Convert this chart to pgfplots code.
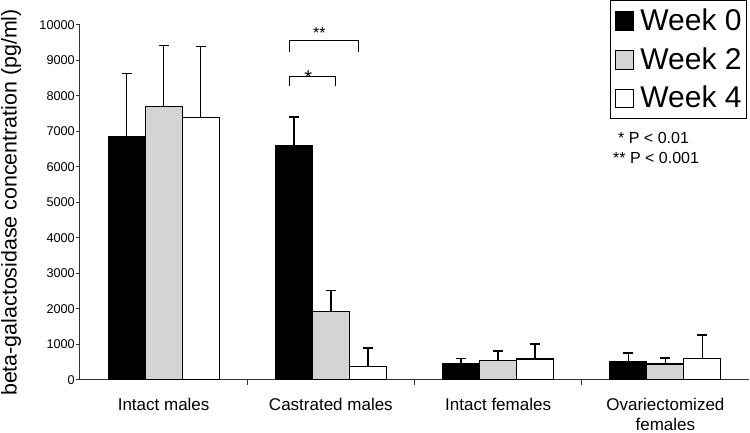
\documentclass[border=0pt]{standalone}
\usepackage{pgfplots}
\pgfplotsset{compat=1.18}
\usepackage{fontspec}
\setmainfont{Liberation Sans}
\definecolor{barGray}{RGB}{212,212,212}
\begin{document}
\begin{tikzpicture}[x=1pt,y=1pt]
\path[use as bounding box] (0,0) rectangle (750,433);
\begin{axis}[
  at={(80pt,53pt)}, anchor=south west,
  scale only axis, width=669pt, height=355pt,
  xmin=-0.5, xmax=3.5, ymin=0, ymax=10000,
  axis x line*=bottom, axis y line*=left,
  axis line style={line width=1pt, black!80},
  ybar,
  bar width=37pt,
  scaled y ticks=false,
  ytick={0,1000,...,10000},
  /pgf/number format/1000 sep={},
  /pgf/number format/assume math mode=true,
  tick align=outside,
  major tick length=4pt,
  minor tick length=5pt,
  xtick={0,1,2,3},
  xticklabels={Intact males,Castrated males,Intact females,{Ovariectomized\\females}},
  minor xtick={0.5,1.5,2.5},
  major x tick style={draw=none},
  minor x tick style={black!80, line width=1pt},
  major y tick style={black!80, line width=1pt},
  yticklabel style={font=\fontsize{12.7}{14}\selectfont, inner sep=0pt, xshift=-1pt},
  xticklabel style={font=\fontsize{17}{20}\selectfont, align=center, anchor=north, inner sep=0pt, yshift=-14pt},
  ylabel={beta-galactosidase concentration (pg/ml)},
  every axis y label/.style={at={(axis description cs:-0.103,0.5)}, rotate=90, anchor=center, font=\fontsize{21.4}{24}\selectfont},
  legend style={at={(rel axis cs:0.997,1.07)}, anchor=north east, draw=black, line width=0.8pt,
    font=\fontsize{30}{30}\selectfont, inner xsep=5pt, inner ysep=10pt,
    nodes={inner sep=0pt, text height=20pt, text depth=0pt}, row sep=18pt,
    column sep=0pt, cells={anchor=base west}},
  legend image code/.code={\draw[#1, line width=1.2pt] (1pt,0pt) rectangle (19pt,18.5pt);\path (25pt,0pt);},
  error bars/y dir=plus, error bars/y explicit,
  error bars/error mark=-,
  error bars/error bar style={line width=1.6pt, solid, draw=black},
  error bars/error mark options={rotate=90, line width=1.6pt, solid, draw=black, mark size=5pt},
]
\addplot[fill=black, draw=black, line width=1.2pt, bar shift=-37pt] coordinates {
  (0,6850) +- (0,1780)
  (1,6600) +- (0,800)
  (2,470) +- (0,130)
  (3,510) +- (0,250)
};
\addplot[fill=barGray, draw=black, line width=1.2pt, bar shift=0pt] coordinates {
  (0,7700) +- (0,1720)
  (1,1925) +- (0,600)
  (2,544) +- (0,280)
  (3,451) +- (0,170)
};
\addplot[fill=white, draw=black, line width=1.2pt, bar shift=37pt] coordinates {
  (0,7400) +- (0,1990)
  (1,385) +- (0,510)
  (2,592) +- (0,420)
  (3,600) +- (0,670)
};
\legend{Week 0,Week 2,Week 4}
\draw[line width=1.2pt] (axis cs:0.751,9248) -- (axis cs:0.751,9558) -- (axis cs:1.165,9558) -- (axis cs:1.165,9248);
\draw[line width=1.2pt] (axis cs:0.751,8282) -- (axis cs:0.751,8555) -- (axis cs:1.027,8555) -- (axis cs:1.027,8282);
\node[anchor=base, inner sep=0pt, font=\fontsize{16}{18}\selectfont] at (axis cs:0.931,9606) {**};
\node[anchor=base, inner sep=0pt, font=\fontsize{20}{22}\selectfont] at (axis cs:0.865,8310) {*};
\end{axis}
\node[anchor=base west, inner sep=0pt, font=\fontsize{16}{18}\selectfont] at (618,289) {* P < 0.01};
\node[anchor=base west, inner sep=0pt, font=\fontsize{16}{18}\selectfont] at (613,269) {** P < 0.001};
\end{tikzpicture}
\end{document}
